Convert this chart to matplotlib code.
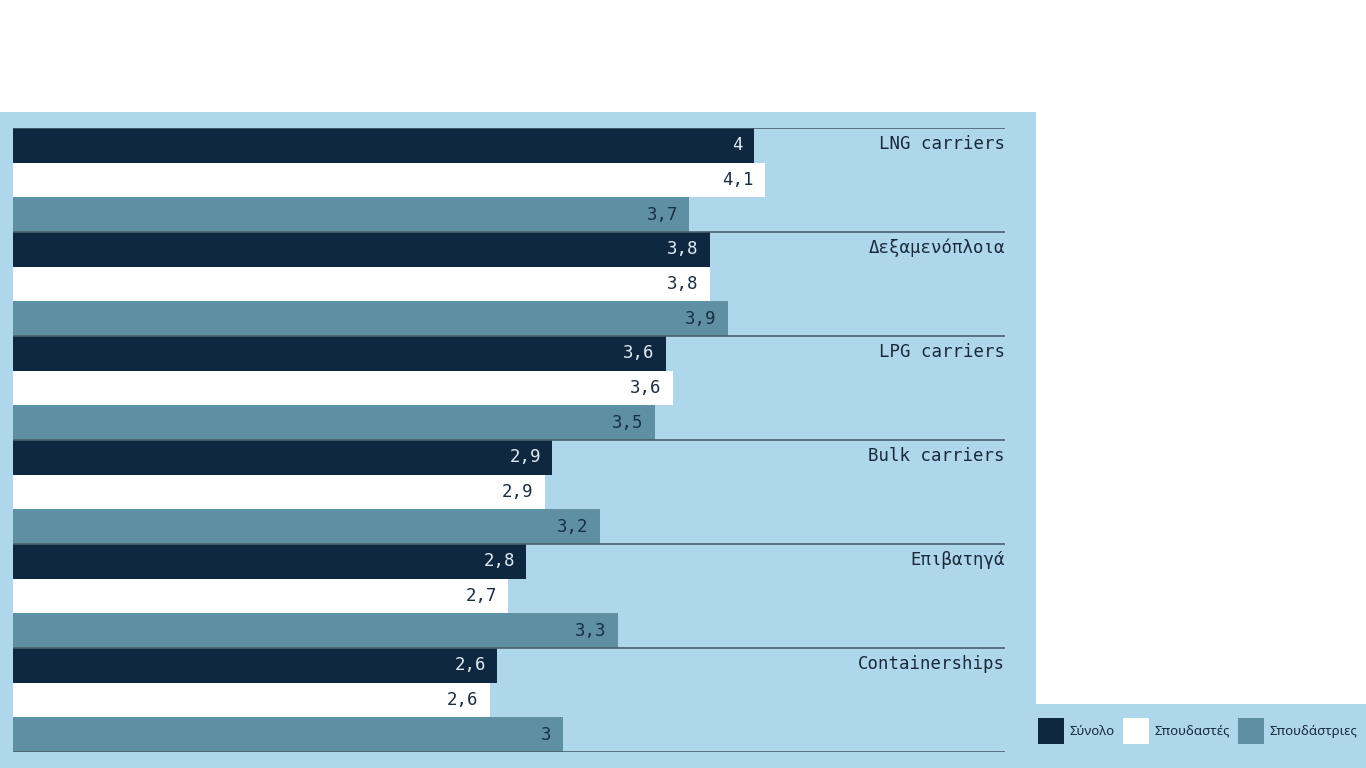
import matplotlib
matplotlib.use('Agg')
import matplotlib.pyplot as plt
from matplotlib.patches import Rectangle, Patch

categories = ['LNG carriers', 'Δεξαμενόπλοια', 'LPG carriers', 'Bulk carriers', 'Επιβατηγά', 'Containerships']
series_names = ['Σύνολο', 'Σπουδαστές', 'Σπουδάστριες']
synolo = [4.04, 3.80, 3.56, 2.94, 2.80, 2.64]
spoudastes = [4.10, 3.80, 3.60, 2.90, 2.70, 2.60]
spoudastries = [3.69, 3.90, 3.50, 3.20, 3.30, 3.00]

colors = ['#0d2840', '#ffffff', '#5e8fa2']
label_colors = ['#e4eaf0', '#1a2e44', '#1a2e44']
panel = '#aed7ec'
W, H = 1366, 768


def fmt(v):
    s = '%.1f' % v
    if s.endswith('.0'):
        s = s[:-2]
    return s.replace('.', ',')


fig = plt.figure(figsize=(W / 100, H / 100), dpi=100)
fig.patch.set_facecolor('white')

# background panel and legend box
fig.patches.append(Rectangle((0, 0), 1036 / W, (H - 112) / H, transform=fig.transFigure,
                             facecolor=panel, edgecolor='none', zorder=-5))
fig.patches.append(Rectangle((1036 / W, 0), (W - 1036) / W, 64 / H, transform=fig.transFigure,
                             facecolor=panel, edgecolor='none', zorder=-5))

ax = fig.add_axes([13 / W, (H - 752) / H, (1005 - 13) / W, 624 / H])
ax.set_facecolor('none')
ax.set_xlim(0, (1005 - 13) / 183.3)
ax.set_ylim(len(categories) * 3, 0)
for s in ax.spines.values():
    s.set_visible(False)
ax.set_xticks([])
ax.set_yticks([])

data = [synolo, spoudastes, spoudastries]
for j, vals in enumerate(data):
    ys = [i * 3 + j + 0.5 for i in range(len(categories))]
    ax.barh(ys, vals, height=1.0, color=colors[j], edgecolor='none', zorder=2)
    for y, v in zip(ys, vals):
        ax.annotate(fmt(v), (v, y), xytext=(-8, 0), textcoords='offset points',
                    ha='right', va='center', fontsize=12.5, family='DejaVu Sans Mono',
                    color=label_colors[j], zorder=4)

for i in range(len(categories) + 1):
    ax.axhline(i * 3, color='#4a5e70', lw=1.2, zorder=3)

for i, c in enumerate(categories):
    ax.text(ax.get_xlim()[1], i * 3 + 0.45, c, ha='right', va='center',
            fontsize=12.5, family='DejaVu Sans Mono', color='#1b2a3a', zorder=4)

handles = [Patch(facecolor=c, edgecolor='none') for c in colors]
fig.legend(handles, series_names, loc='center left',
           bbox_to_anchor=(1038 / W, 37 / H), ncol=3, frameon=False,
           borderaxespad=0, borderpad=0,
           handlelength=2.0, handleheight=2.6, handletextpad=0.4,
           columnspacing=0.6, labelcolor='#1b2a3a',
           prop={'family': 'Noto Sans', 'size': 9.5})

fig.savefig('out.png', dpi=100, facecolor='white')
